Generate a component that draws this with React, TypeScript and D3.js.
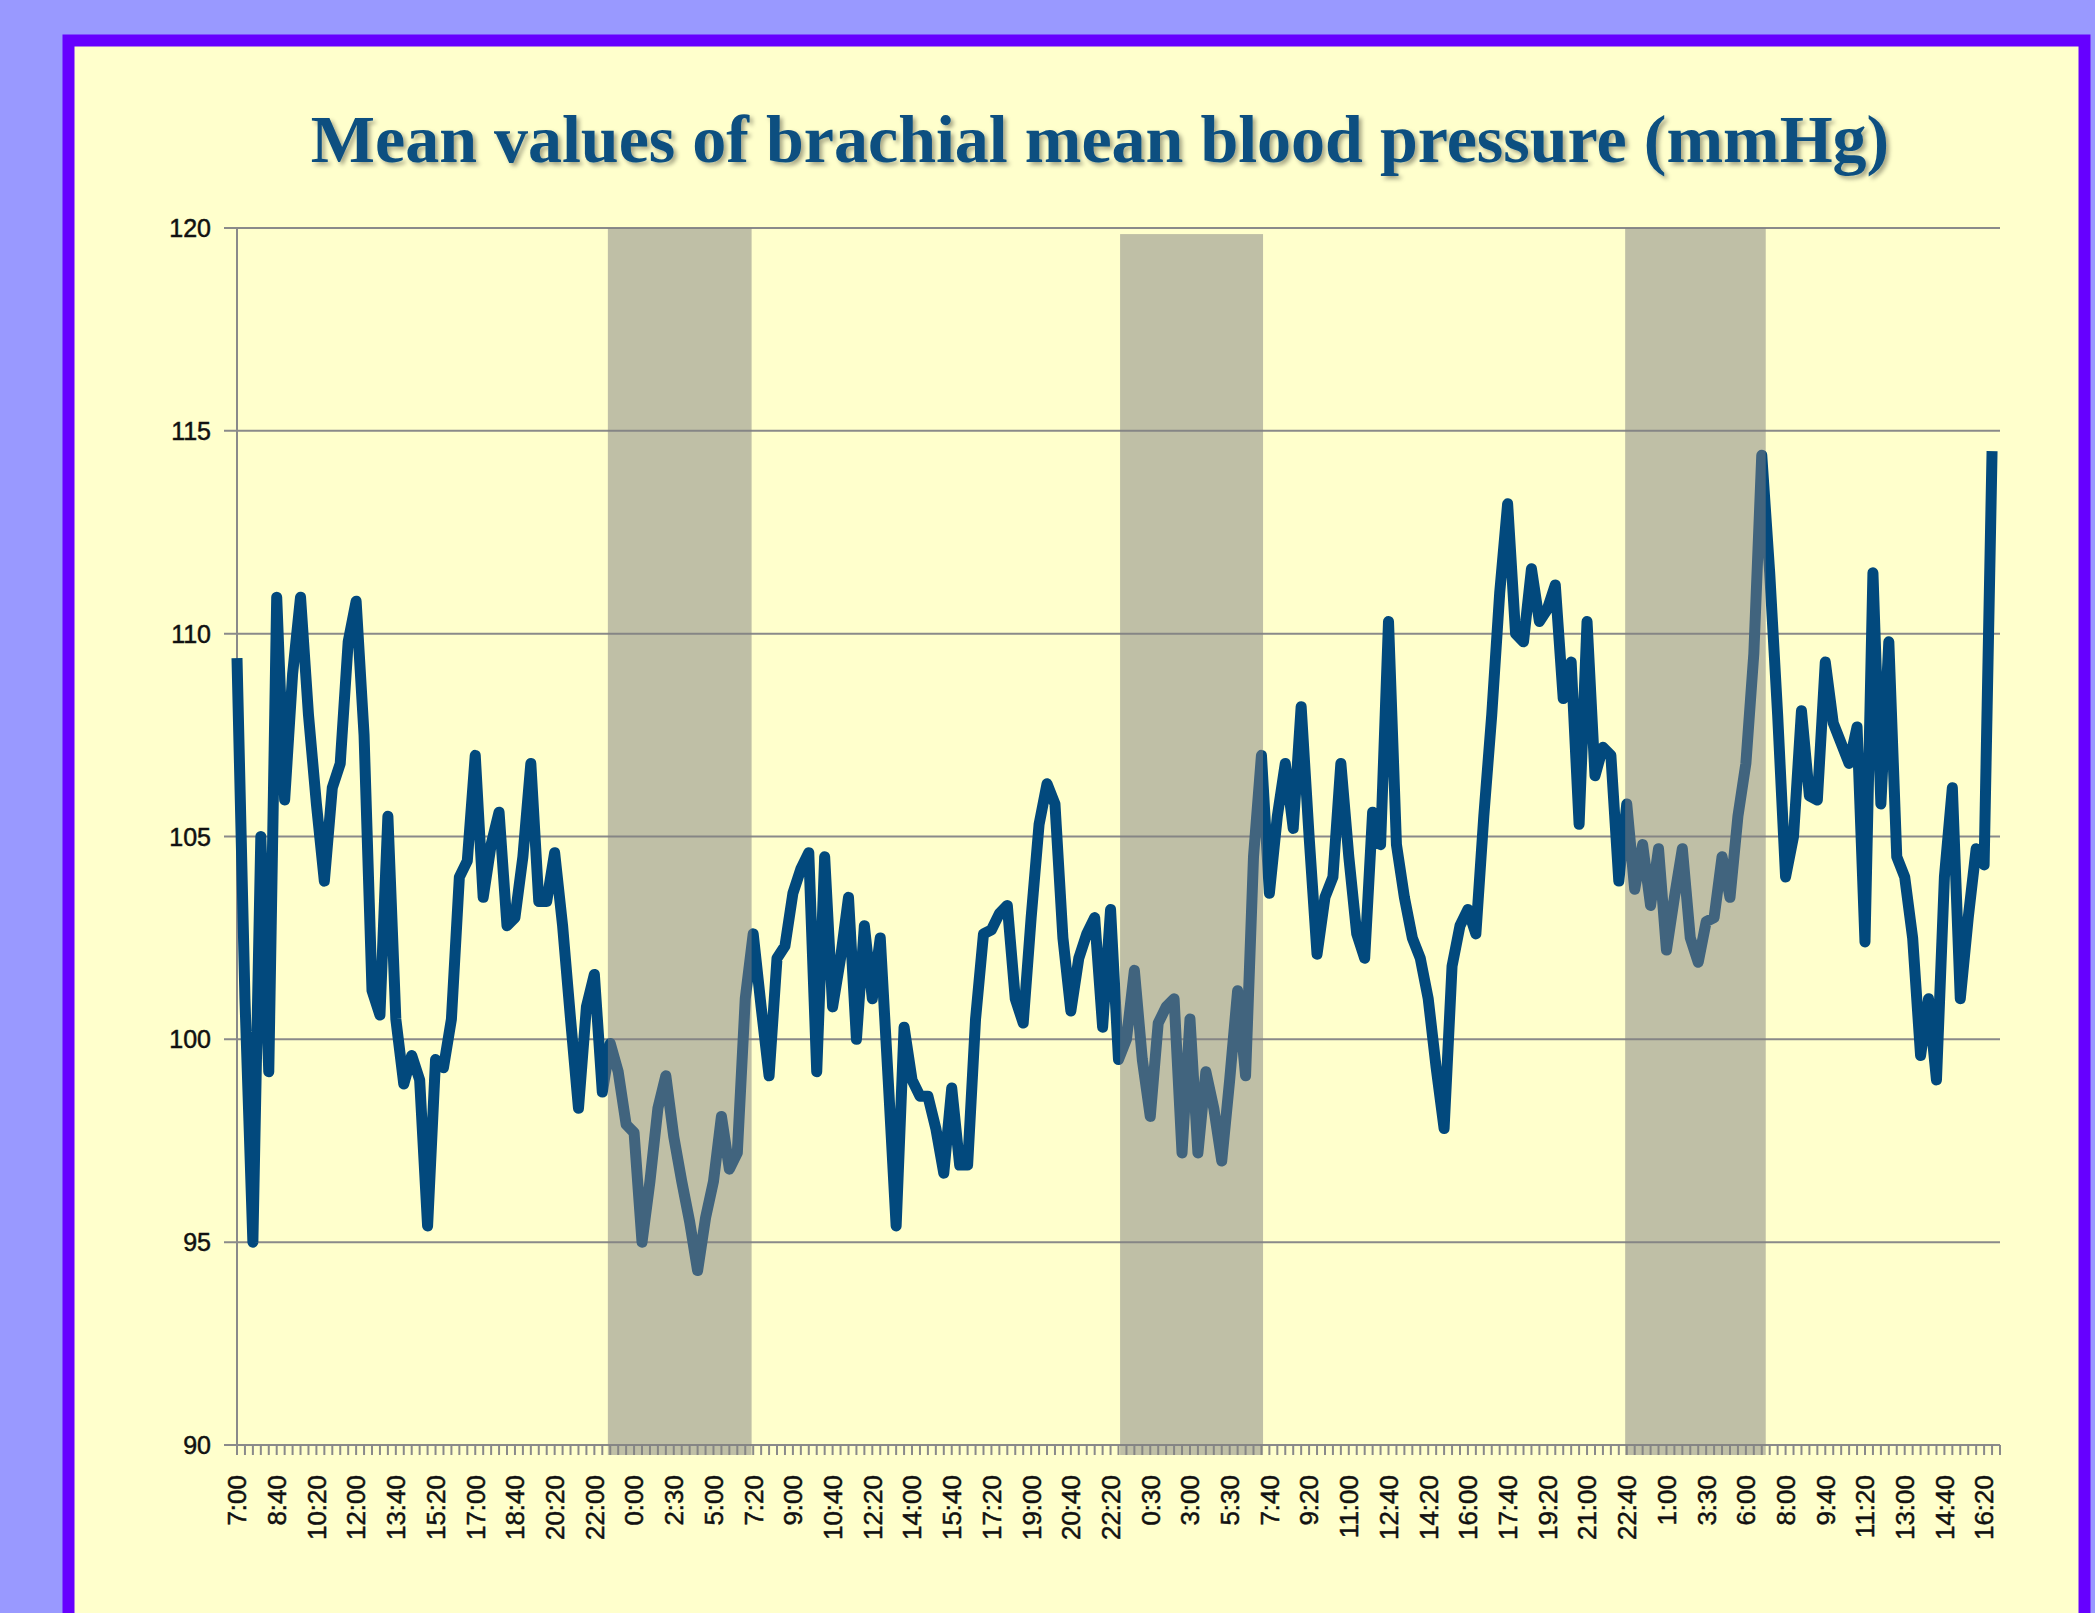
import React from 'react';
import * as d3 from 'd3';

const chartTitle = 'Mean values of brachial mean blood pressure (mmHg)';

const pressure = [
  109.4, 101.0, 95.0, 105.0, 99.2, 110.9, 105.9, 109.0, 110.9, 108.0,
  105.8, 103.9, 106.2, 106.8, 109.8, 110.8, 107.5, 101.2, 100.6, 105.5,
  100.5, 98.9, 99.6, 99.0, 95.4, 99.5, 99.3, 100.5, 104.0, 104.4,
  107.0, 103.5, 104.8, 105.6, 102.8, 103.0, 104.5, 106.8, 103.4, 103.4,
  104.6, 102.8, 100.5, 98.3, 100.8, 101.6, 98.7, 99.9, 99.2, 97.9,
  97.7, 95.0, 96.5, 98.3, 99.1, 97.6, 96.5, 95.5, 94.3, 95.6,
  96.5, 98.1, 96.8, 97.2, 101.0, 102.6, 100.8, 99.1, 102.0, 102.3,
  103.6, 104.2, 104.6, 99.2, 104.5, 100.8, 102.0, 103.5, 100.0, 102.8,
  101.0, 102.5, 99.0, 95.4, 100.3, 99.0, 98.6, 98.6, 97.8, 96.7,
  98.8, 96.9, 96.9, 100.5, 102.6, 102.7, 103.1, 103.3, 101.0, 100.4,
  103.0, 105.3, 106.3, 105.8, 102.5, 100.7, 102.0, 102.6, 103.0, 100.3,
  103.2, 99.5, 100.0, 101.7, 99.5, 98.1, 100.4, 100.8, 101.0, 97.2,
  100.5, 97.2, 99.2, 98.3, 97.0, 99.0, 101.2, 99.1, 104.5, 107.0,
  103.6, 105.5, 106.8, 105.2, 108.2, 105.0, 102.1, 103.5, 104.0, 106.8,
  104.5, 102.6, 102.0, 105.6, 104.8, 110.3, 104.8, 103.5, 102.5, 102.0,
  101.0, 99.3, 97.8, 101.8, 102.8, 103.2, 102.6, 105.5, 108.0, 111.0,
  113.2, 110.0, 109.8, 111.6, 110.3, 110.6, 111.2, 108.4, 109.3, 105.3,
  110.3, 106.5, 107.2, 107.0, 103.9, 105.8, 103.7, 104.8, 103.3, 104.7,
  102.2, 103.5, 104.7, 102.5, 101.9, 102.9, 103.0, 104.5, 103.5, 105.5,
  106.8, 109.5, 114.4, 111.5, 108.0, 104.0, 105.0, 108.1, 106.0, 105.9,
  109.3, 107.8, 107.3, 106.8, 107.7, 102.4, 111.5, 105.8, 109.8, 104.5,
  104.0, 102.5, 99.6, 101.0, 99.0, 104.0, 106.2, 101.0, 103.0, 104.7,
  104.3, 114.5,
];

// every fifth measurement time carries a label
const timeLabels = [
  '7:00', '8:40', '10:20', '12:00', '13:40', '15:20', '17:00', '18:40', '20:20', '22:00',
  '0:00', '2:30', '5:00', '7:20', '9:00', '10:40', '12:20', '14:00', '15:40', '17:20',
  '19:00', '20:40', '22:20', '0:30', '3:00', '5:30', '7:40', '9:20', '11:00', '12:40',
  '14:20', '16:00', '17:40', '19:20', '21:00', '22:40', '1:00', '3:30', '6:00', '8:00',
  '9:40', '11:20', '13:00', '14:40', '16:20',
];
const labelStep = 5;
const categoryCount = 223;

const yTicks = [90, 95, 100, 105, 110, 115, 120];

// night periods, in category positions along the time axis
const nightFrom = [46.7, 111.2, 174.8];
const nightTo = [64.8, 129.2, 192.5];
const nightTop = [120, 119.85, 120];

export default function App() {
  const width = 2095;
  const height = 1613;
  const left = 237;
  const right = 2000;
  const top = 228;
  const bottom = 1445;
  const tickLen = 10;

  const x = d3.scaleLinear().domain([0, categoryCount - 1]).range([left, right]);
  const y = d3.scaleLinear().domain([90, 120]).range([bottom, top]);

  const line = d3.line<number>()
    .x((d, i) => x(i))
    .y((d) => y(d));

  const cats = d3.range(categoryCount);
  const gridColor = '#8a8a8a';
  const labelFont = "'Liberation Sans', Arial, sans-serif";

  return (
    <svg width={width} height={height} style={{ position: 'absolute', left: 0, top: 0, display: 'block' }}>
      <defs>
        <filter id="titleShadow" x="-5%" y="-20%" width="110%" height="160%">
          <feDropShadow dx="3" dy="3" stdDeviation="2" floodColor="#000" floodOpacity="0.35" />
        </filter>
      </defs>
      <rect x={0} y={0} width={width} height={height} fill="#9999ff" />
      <rect x={68.5} y={40.5} width={2016} height={1700} fill="#ffffcc" stroke="#6600ff" strokeWidth={12} />

      <text x={1100} y={162} textAnchor="middle" fontFamily="'Liberation Serif', 'Times New Roman', serif"
        fontWeight="bold" fontSize={68} fill="#0b4f80" filter="url(#titleShadow)">
        {chartTitle}
      </text>

      {/* horizontal grid lines, reaching out as y ticks */}
      {yTicks.map((t) => (
        <line key={'g' + t} x1={left - 13} x2={right} y1={y(t)} y2={y(t)} stroke={gridColor} strokeWidth={2} />
      ))}
      <line x1={left} x2={left} y1={top} y2={bottom} stroke={gridColor} strokeWidth={2} />
      {yTicks.map((t) => (
        <text key={'yl' + t} x={left - 26} y={y(t)} dy="0.36em" textAnchor="end"
          fontFamily={labelFont} fontSize={25} fill="#111" stroke="#111" strokeWidth={0.5}>
          {t}
        </text>
      ))}

      {/* category ticks on the time axis */}
      {cats.map((c) => (
        <line key={'xt' + c} x1={x(c)} x2={x(c)} y1={bottom} y2={bottom + tickLen} stroke={gridColor} strokeWidth={2} />
      ))}
      {timeLabels.map((lab, k) => {
        const cx = x(k * labelStep);
        return (
          <text key={'xl' + k} transform={`translate(${cx},${bottom + 30}) rotate(-90)`} dy="0.36em"
            textAnchor="end" fontFamily={labelFont} fontSize={26} fill="#111" stroke="#111" strokeWidth={0.5}>
            {lab}
          </text>
        );
      })}

      <path d={line(pressure) || ''} fill="none" stroke="#02497d" strokeWidth={11} strokeLinejoin="round" />

      {/* night shading sits over the line */}
      {nightFrom.map((s, k) => (
        <rect key={'n' + k} x={x(s)} width={x(nightTo[k]) - x(s)} y={y(nightTop[k])}
          height={bottom + tickLen - y(nightTop[k])} fill="#808080" fillOpacity={0.5} />
      ))}
    </svg>
  );
}
